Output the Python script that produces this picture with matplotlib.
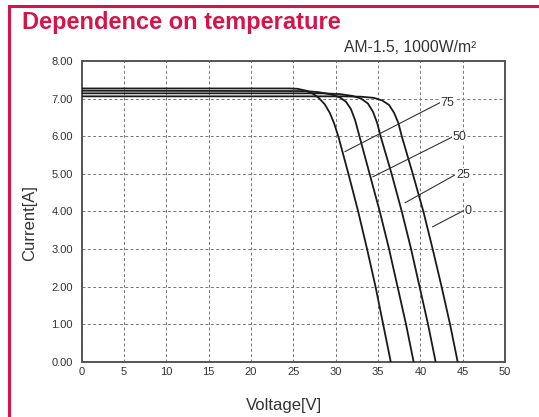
import matplotlib
matplotlib.use("Agg")
import matplotlib.pyplot as plt
from matplotlib.lines import Line2D

# Data
temps = ["75", "50", "25", "0"]
v_75 = [0, 24.5, 25.5, 26.5, 27.3, 28.0, 28.7, 29.3, 29.8, 30.3, 31.5, 32.65, 33.7, 34.7, 35.6, 36.5]
i_75 = [7.27, 7.27, 7.26, 7.21, 7.13, 7.02, 6.85, 6.62, 6.35, 6.0, 5.0, 4.0, 3.0, 2.0, 1.0, 0.0]
v_50 = [0, 26.5, 28.0, 29.5, 30.5, 31.2, 31.8, 32.3, 32.8, 34.0, 35.2, 36.3, 37.3, 38.3, 39.2]
i_50 = [7.21, 7.20, 7.17, 7.11, 7.03, 6.92, 6.72, 6.42, 6.0, 5.0, 4.0, 3.0, 2.0, 1.0, 0.0]
v_25 = [0, 28.5, 30.5, 32.0, 33.0, 33.8, 34.4, 34.9, 35.3, 36.6, 37.8, 38.9, 39.9, 40.9, 41.8]
i_25 = [7.14, 7.14, 7.12, 7.07, 7.0, 6.87, 6.65, 6.35, 6.0, 5.0, 4.0, 3.0, 2.0, 1.0, 0.0]
v_0 = [0, 31.0, 33.0, 34.5, 35.5, 36.3, 36.9, 37.4, 37.8, 39.1, 40.35, 41.45, 42.5, 43.5, 44.4]
i_0 = [7.06, 7.06, 7.05, 7.02, 6.95, 6.83, 6.62, 6.35, 6.0, 5.0, 4.0, 3.0, 2.0, 1.0, 0.0]

# label leader lines (start point on curve side, end point at label)
leader_start = [(31.1, 5.59), (34.4, 4.92), (38.2, 4.23), (41.45, 3.59)]
leader_end = [(42.3, 6.89), (43.7, 5.97), (44.1, 4.97), (45.1, 4.02)]

x_ticks = [0, 5, 10, 15, 20, 25, 30, 35, 40, 45, 50]
y_ticks = [0, 1, 2, 3, 4, 5, 6, 7, 8]
y_ticklabels = ["0.00", "1.00", "2.00", "3.00", "4.00", "5.00", "6.00", "7.00", "8.00"]

RED = "#d4154a"
NARROW = ["Liberation Sans Narrow", "Liberation Sans", "DejaVu Sans"]
SANS = ["Liberation Sans", "DejaVu Sans"]

fig = plt.figure(figsize=(5.39, 4.17), dpi=100)
ax = fig.add_axes([0.1516, 0.1326, 0.937 - 0.1516, 0.8537 - 0.1326])

for v, i in [(v_75, i_75), (v_50, i_50), (v_25, i_25), (v_0, i_0)]:
    ax.plot(v, i, color="#1a1a1a", lw=1.3, solid_joinstyle="round", zorder=3)

for t, (sv, si), (ev, ei) in zip(temps, leader_start, leader_end):
    ax.plot([sv, ev], [si, ei], color="#333333", lw=0.8, zorder=3)
    ax.text(ev + 0.1, ei, t, fontsize=9, family=SANS,
            color="#333333", ha="left", va="center", zorder=4,
            bbox=dict(facecolor="white", edgecolor="none", pad=0.5))

ax.set_xlim(0, 50)
ax.set_ylim(0, 8)
ax.set_xticks(x_ticks)
ax.set_yticks(y_ticks)
ax.set_yticklabels(y_ticklabels)
ax.grid(True, color="#777777", linestyle=(0, (3, 2.5)), lw=0.7)
ax.tick_params(length=0, labelsize=8, colors="#333333")
ax.tick_params(axis="y", pad=6.5)
ax.tick_params(axis="x", pad=4)
for lab in ax.get_xticklabels() + ax.get_yticklabels():
    lab.set_family(NARROW)
for s in ax.spines.values():
    s.set_color("#555555")
    s.set_linewidth(1.4)

ax.set_xlabel("Voltage[V]", fontsize=12, family=SANS, color="#333333")
ax.set_ylabel("Current[A]", fontsize=12, family=SANS, color="#333333")
ax.xaxis.set_label_coords((284 - 81.7) / (505 - 81.7), -(405 - 361.7) / 300.7)
ax.yaxis.set_label_coords(-(81.7 - 30) / (505 - 81.7), (361.7 - 223) / 300.7)
ax.xaxis.label.set_va("center")
ax.yaxis.label.set_va("center")

fig.text(22 / 539, 1 - 22 / 417, "Dependence on temperature", fontsize=17,
         fontweight="bold", color=RED, family=SANS,
         ha="left", va="center")
fig.text(476 / 539, 1 - 47 / 417, "AM-1.5, 1000W/m²", fontsize=11.3,
         color="#333333", family=SANS,
         ha="right", va="center")

# red frame (top and left)
fig.add_artist(Line2D([9 / 539, 1.0], [1 - 5.5 / 417, 1 - 5.5 / 417],
                      transform=fig.transFigure, color=RED, lw=2.2))
fig.add_artist(Line2D([9 / 539, 9 / 539], [0, 1 - 5.5 / 417],
                      transform=fig.transFigure, color=RED, lw=2.2))

fig.savefig("out.png", dpi=100)
